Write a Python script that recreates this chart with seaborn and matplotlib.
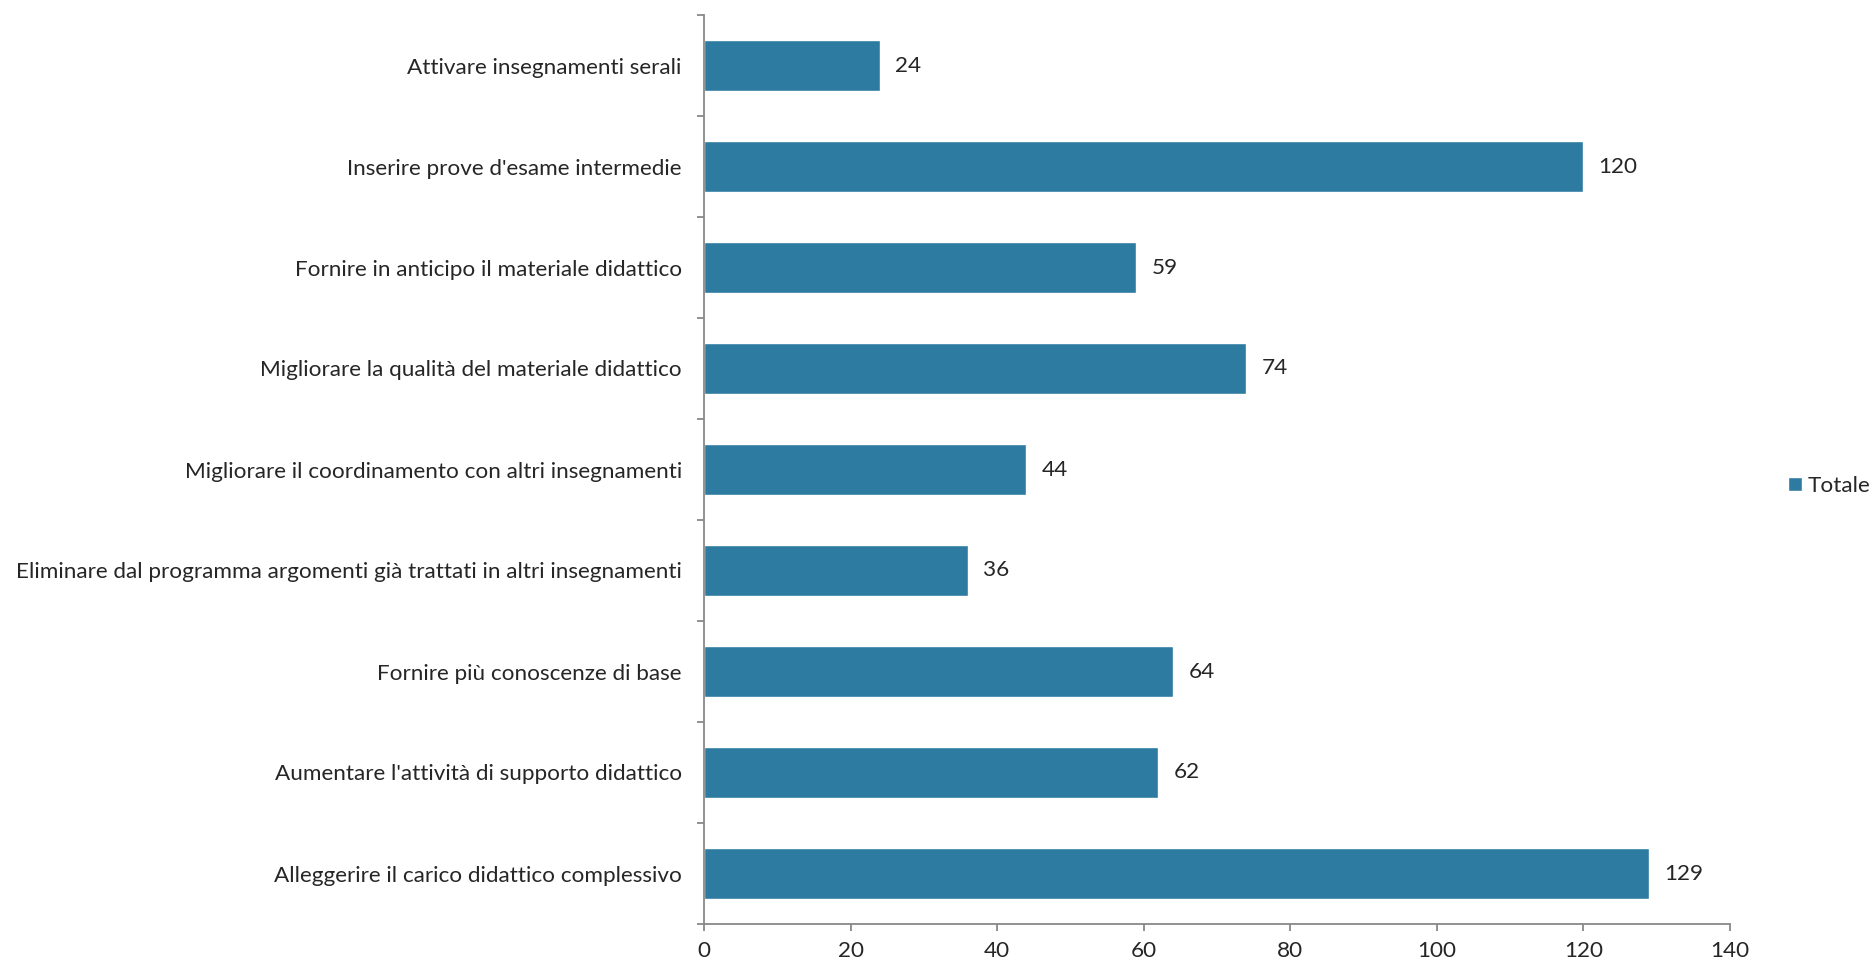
import matplotlib
matplotlib.use("Agg")
import matplotlib.pyplot as plt
import seaborn as sns
import pandas as pd
import numpy as np

categories = [
    "Attivare insegnamenti serali",
    "Inserire prove d'esame intermedie",
    "Fornire in anticipo il materiale didattico",
    "Migliorare la qualità del materiale didattico",
    "Migliorare il coordinamento con altri insegnamenti",
    "Eliminare dal programma argomenti già trattati in altri insegnamenti",
    "Fornire più conoscenze di base",
    "Aumentare l'attività di supporto didattico",
    "Alleggerire il carico didattico complessivo",
]
values = [24, 120, 59, 74, 44, 36, 64, 62, 129]
series_name = "Totale"
x_ticks = [0, 20, 40, 60, 80, 100, 120, 140]

sns.set_theme(style="white")
plt.rcParams['font.family'] = ['Lato', 'DejaVu Sans']

df = pd.DataFrame({"cat": categories, "val": values})
color = "#2E7BA1"
axis_col = "#888888"
fs = 16.2

fig = plt.figure(figsize=(18.74, 9.68), dpi=100)
ax = fig.add_axes([704/1874, 1-924/968, (1730-704)/1874, (924-15)/968])
sns.barplot(data=df, y="cat", x="val", order=categories, orient="h",
            color=color, width=0.5, saturation=1, ax=ax, label=series_name)

ax.set_xlim(0, 140)
ax.set_ylim(len(categories)-0.5, -0.5)
ax.set_xticks(x_ticks)
ax.set_xticklabels([str(t) for t in x_ticks], fontsize=fs)
ax.set_yticks(range(len(categories)))
ax.set_yticklabels(categories, fontsize=fs)
ax.set_yticks(np.arange(-0.5, len(categories), 1.0), minor=True)
ax.tick_params(axis='y', which='major', length=0, pad=16)
ax.tick_params(axis='y', which='minor', length=5, width=1.3, color=axis_col, direction='out', left=True)
ax.tick_params(axis='x', which='major', length=5, width=1.3, color=axis_col, direction='out', bottom=True, pad=7)
ax.set_xlabel("")
ax.set_ylabel("")
for s in ["top", "right"]:
    ax.spines[s].set_visible(False)
for s in ["left", "bottom"]:
    ax.spines[s].set_color(axis_col)
    ax.spines[s].set_linewidth(1.3)

for c in ax.containers:
    ax.bar_label(c, labels=[str(v) for v in values], padding=11, fontsize=fs)

h, l = ax.get_legend_handles_labels()
ax.legend(h[:1], l[:1], loc="center right", bbox_to_anchor=(1870/1874, 1-486/968),
          bbox_transform=fig.transFigure, frameon=False, fontsize=fs,
          handlelength=0.6, handleheight=0.6, handletextpad=0.25, borderaxespad=0,
          borderpad=0)

fig.savefig("out.png", dpi=100)
